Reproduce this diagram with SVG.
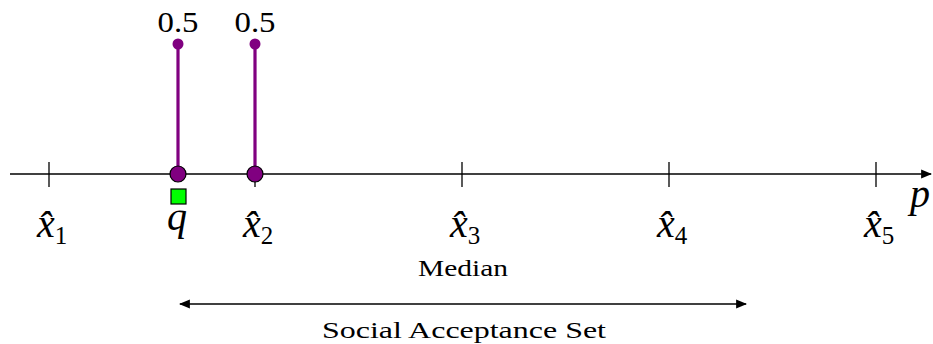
<svg xmlns="http://www.w3.org/2000/svg" width="933" height="344" viewBox="0 0 933 344">
<style>
.ax{stroke:#000;stroke-width:1.3;fill:none}
.tk{stroke:#000;stroke-width:1.3}
.st{stroke:#800080;stroke-width:3.2}
.math{font-family:"Liberation Serif","DejaVu Serif",serif;font-style:italic;font-size:40px;fill:#000}
.sub{font-style:normal;font-size:25px}
.num{font-family:"Liberation Serif","DejaVu Serif",serif;font-size:30px;fill:#000;text-anchor:middle}
.lbl{font-family:"Liberation Serif","DejaVu Serif",serif;font-size:23px;fill:#000}
</style>
<defs>
<marker id="ah" viewBox="0 0 10 10" refX="9" refY="5" markerWidth="11" markerHeight="11" markerUnits="userSpaceOnUse" orient="auto-start-reverse">
<path d="M0,1 L10,5 L0,9 z" fill="#000"/>
</marker>
</defs>
<g id="connectors">
<line class="ax" x1="10" y1="174" x2="931" y2="174" marker-end="url(#ah)"/>
<line class="ax" x1="180" y1="304" x2="746" y2="304" marker-start="url(#ah)" marker-end="url(#ah)"/>
</g>
<g id="ticks">
<line class="tk" x1="49" y1="162" x2="49" y2="187"/>
<line class="tk" x1="255" y1="162" x2="255" y2="187"/>
<line class="tk" x1="462" y1="162" x2="462" y2="187"/>
<line class="tk" x1="669" y1="162" x2="669" y2="187"/>
<line class="tk" x1="876" y1="162" x2="876" y2="187"/>
</g>
<g id="stem-q">
<line class="st" x1="178" y1="44" x2="178" y2="174"/>
<circle cx="178" cy="44" r="5.5" fill="#800080"/>
<circle cx="178" cy="174" r="8" fill="#800080" stroke="#000" stroke-width="1.2"/>
<text class="num" x="178" y="32" textLength="41" lengthAdjust="spacingAndGlyphs">0.5</text>
</g>
<g id="stem-x2">
<line class="st" x1="255" y1="44" x2="255" y2="174"/>
<circle cx="255" cy="44" r="5.5" fill="#800080"/>
<circle cx="255" cy="174" r="8" fill="#800080" stroke="#000" stroke-width="1.2"/>
<text class="num" x="255" y="32" textLength="41" lengthAdjust="spacingAndGlyphs">0.5</text>
</g>
<g id="q-node">
<rect x="171" y="189" width="15" height="15" fill="#00ff00" stroke="#000" stroke-width="1.2"/>
<text class="math" x="177" y="230" text-anchor="middle">q</text>
</g>
<g id="x1"><text class="math" x="37" y="237">x̂<tspan class="sub" dy="7">1</tspan></text></g>
<g id="x2"><text class="math" x="243" y="237">x̂<tspan class="sub" dy="7">2</tspan></text></g>
<g id="x3"><text class="math" x="450" y="237">x̂<tspan class="sub" dy="7">3</tspan></text></g>
<g id="x4"><text class="math" x="657" y="237">x̂<tspan class="sub" dy="7">4</tspan></text></g>
<g id="x5"><text class="math" x="864" y="237">x̂<tspan class="sub" dy="7">5</tspan></text></g>
<g id="labels">
<text class="math" x="910" y="207">p</text>
<text class="lbl" x="418" y="276" textLength="90" lengthAdjust="spacingAndGlyphs">Median</text>
<text class="lbl" x="322" y="338" textLength="284" lengthAdjust="spacingAndGlyphs">Social Acceptance Set</text>
</g>
</svg>
